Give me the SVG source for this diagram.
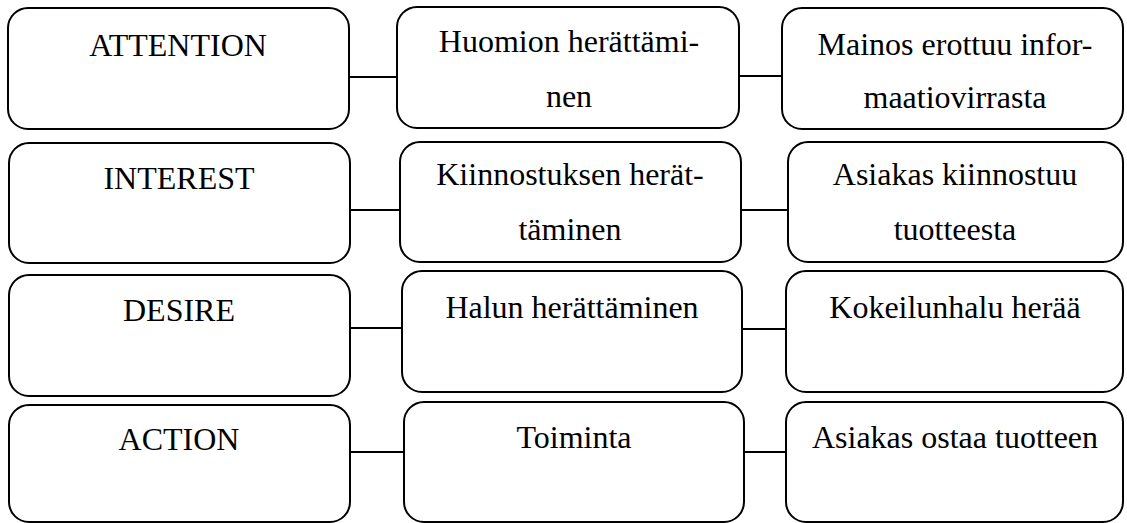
<svg xmlns="http://www.w3.org/2000/svg" width="1127" height="523" viewBox="0 0 1127 523">
  <style>
    .box { fill: #ffffff; stroke: #000000; stroke-width: 2; }
    .link { stroke: #000000; stroke-width: 2; fill: none; }
    .label { font-family: "Liberation Serif", "Times New Roman", serif; font-size: 32px; fill: #000000; text-anchor: middle; }
  </style>
  <rect width="1127" height="523" fill="#ffffff"/>

  <!-- connectors between the columns -->
  <g id="connectors">
    <line class="link" x1="349" y1="77" x2="397" y2="77"/>
    <line class="link" x1="739" y1="76" x2="782" y2="76"/>
    <line class="link" x1="350" y1="210" x2="400" y2="210"/>
    <line class="link" x1="741" y1="210" x2="788" y2="210"/>
    <line class="link" x1="350" y1="328" x2="402" y2="328"/>
    <line class="link" x1="742" y1="329" x2="786" y2="329"/>
    <line class="link" x1="350" y1="452" x2="404" y2="452"/>
    <line class="link" x1="744" y1="452" x2="786" y2="452"/>
  </g>

  <!-- row 1 -->
  <g id="attention">
    <rect class="box" x="8" y="8" width="341" height="121" rx="20" ry="20"/>
    <text class="label" x="178" y="56">ATTENTION</text>
  </g>
  <g id="huomion">
    <rect class="box" x="397" y="7" width="342" height="121" rx="20" ry="20"/>
    <text class="label" x="569" y="52">Huomion herättämi-</text>
    <text class="label" x="569" y="107">nen</text>
  </g>
  <g id="mainos">
    <rect class="box" x="782" y="8" width="341" height="121" rx="20" ry="20"/>
    <text class="label" x="955" y="55">Mainos erottuu infor-</text>
    <text class="label" x="955" y="108">maatiovirrasta</text>
  </g>

  <!-- row 2 -->
  <g id="interest">
    <rect class="box" x="9" y="143" width="341" height="120" rx="20" ry="20"/>
    <text class="label" x="179" y="189">INTEREST</text>
  </g>
  <g id="kiinnostus">
    <rect class="box" x="400" y="142" width="341" height="120" rx="20" ry="20"/>
    <text class="label" x="570" y="185">Kiinnostuksen herät-</text>
    <text class="label" x="570" y="240">täminen</text>
  </g>
  <g id="asiakas-kiinnostuu">
    <rect class="box" x="788" y="142" width="335" height="120" rx="20" ry="20"/>
    <text class="label" x="955" y="185">Asiakas kiinnostuu</text>
    <text class="label" x="955" y="240">tuotteesta</text>
  </g>

  <!-- row 3 -->
  <g id="desire">
    <rect class="box" x="9" y="275" width="341" height="121" rx="20" ry="20"/>
    <text class="label" x="179" y="321">DESIRE</text>
  </g>
  <g id="halu">
    <rect class="box" x="402" y="271" width="340" height="121" rx="20" ry="20"/>
    <text class="label" x="572" y="318">Halun herättäminen</text>
  </g>
  <g id="kokeilunhalu">
    <rect class="box" x="786" y="271" width="337" height="121" rx="20" ry="20"/>
    <text class="label" x="955" y="318">Kokeilunhalu herää</text>
  </g>

  <!-- row 4 -->
  <g id="action">
    <rect class="box" x="9" y="405" width="341" height="117" rx="20" ry="20"/>
    <text class="label" x="179" y="450">ACTION</text>
  </g>
  <g id="toiminta">
    <rect class="box" x="404" y="402" width="340" height="120" rx="20" ry="20"/>
    <text class="label" x="574" y="448">Toiminta</text>
  </g>
  <g id="asiakas-ostaa">
    <rect class="box" x="786" y="402" width="337" height="120" rx="20" ry="20"/>
    <text class="label" x="955" y="448">Asiakas ostaa tuotteen</text>
  </g>
</svg>
